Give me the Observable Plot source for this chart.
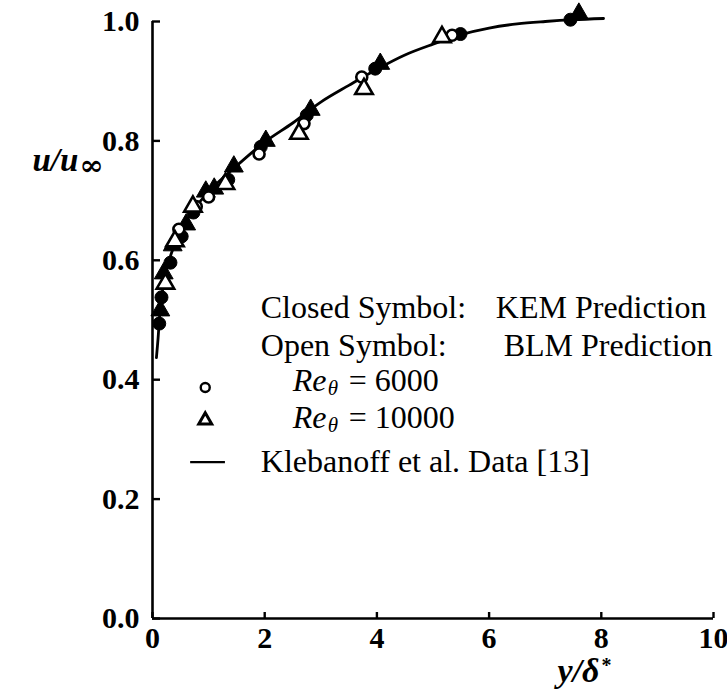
<!DOCTYPE html>
<html><head><meta charset="utf-8">
<script src="https://cdn.jsdelivr.net/npm/d3@7"></script>
<script src="https://cdn.jsdelivr.net/npm/@observablehq/plot@0.6"></script>
<style>body{margin:0;background:#fff}</style>
</head><body><div id="chart"></div>
<script>
// ---- data ----
const xTicks = [0, 2, 4, 6, 8, 10];
const yTicks = [0, 0.2, 0.4, 0.6, 0.8, 1.0];

// Klebanoff et al. data (solid line)
const klebX = [0.07,0.10,0.13,0.18,0.25,0.35,0.5,0.7,1.0,1.4,2.0,2.5,3.0,3.5,4.0,4.5,5.0,5.5,6.0,6.5,7.0,7.5,8.04];
const klebU = [0.437,0.47,0.51,0.55,0.585,0.615,0.648,0.68,0.715,0.75,0.798,0.83,0.865,0.893,0.92,0.944,0.962,0.978,0.989,0.996,1.0,1.003,1.005];

// KEM prediction (closed symbols)
const kem6000X = [0.12,0.16,0.32,0.52,0.73,1.35,1.93,2.75,3.97,5.49,7.45];
const kem6000U = [0.494,0.538,0.596,0.64,0.68,0.735,0.79,0.843,0.921,0.979,1.003];
const kem10000X = [0.14,0.2,0.36,0.6,0.95,1.1,1.45,2.02,2.82,4.06,7.6];
const kem10000U = [0.516,0.578,0.625,0.66,0.715,0.72,0.757,0.80,0.852,0.929,1.013];

// BLM prediction (open symbols)
const blm6000X = [0.47,0.78,1.0,1.9,2.7,3.73,5.34];
const blm6000U = [0.652,0.69,0.706,0.778,0.829,0.907,0.977];
const blm10000X = [0.23,0.4,0.72,1.3,2.61,3.77,5.16];
const blm10000U = [0.561,0.632,0.69,0.728,0.812,0.887,0.974];

// legend text
const legendRow1 = ["Closed Symbol:", "KEM Prediction"];
const legendRow2 = ["Open Symbol:", "BLM Prediction"];
const legendRe = ["6000", "10000"];
const legendLine = "Klebanoff et al. Data [13]";

// ---- build ----
const zip = (xs, us) => xs.map((x, i) => ({x, u: us[i]}));
const kleb = zip(klebX, klebU);
const kem6 = zip(kem6000X, kem6000U);
const kem10 = zip(kem10000X, kem10000U);
const blm6 = zip(blm6000X, blm6000U);
const blm10 = zip(blm10000X, blm10000U);

const serif = "'Liberation Serif', 'DejaVu Serif', serif";
const lx = 1.93;       // legend text column (data units)
const lx2 = 6.12;      // second column
const ly = [0.521, 0.457, 0.399, 0.337, 0.262];
const fs = 32;

const plot = Plot.plot({
  width: 727,
  height: 695,
  marginLeft: 152,
  marginRight: 14,
  marginTop: 21,
  marginBottom: 77,
  style: {fontFamily: serif, fontSize: "28px", color: "#000", background: "#fff"},
  x: {domain: [0, 10]},
  y: {domain: [0, 1]},
  marks: [
    Plot.ruleX([0], {stroke: "#000", strokeWidth: 2.6}),
    Plot.ruleY([0], {stroke: "#000", strokeWidth: 2.6}),
    Plot.axisX({ticks: xTicks, tickSize: -6, tickPadding: 14, strokeWidth: 2.4, tickFormat: d => String(d),
      fontSize: 30, fontWeight: "bold", fontFamily: serif, label: null}),
    Plot.axisY({ticks: yTicks, tickSize: -8, tickPadding: 21, strokeWidth: 2.4, tickFormat: d => d.toFixed(1),
      fontSize: 30, fontWeight: "bold", fontFamily: serif, label: null}),
    // Klebanoff line
    Plot.line(kleb, {x: "x", y: "u", curve: "catmull-rom", stroke: "#000", strokeWidth: 2.8}),
    // closed symbols
    Plot.dot(kem6, {x: "x", y: "u", symbol: "circle", r: 6.5, fill: "#000", stroke: "#000", strokeWidth: 1}),
    Plot.dot(kem10, {x: "x", y: "u", symbol: "triangle", r: 7, fill: "#000", stroke: "#000", strokeWidth: 1}),
    // open symbols
    Plot.dot(blm6, {x: "x", y: "u", symbol: "circle", r: 5.5, fill: "#fff", stroke: "#000", strokeWidth: 2.6}),
    Plot.dot(blm10, {x: "x", y: "u", symbol: "triangle", r: 6.5, fill: "#fff", stroke: "#000", strokeWidth: 2.6}),
    // axis titles
    Plot.text(["u/u"], {frameAnchor: "top-left", dx: -120, dy: 126, textAnchor: "start", fontStyle: "italic", fontWeight: "bold", fontSize: 33, fontFamily: serif}),
    Plot.text(["∞"], {frameAnchor: "top-left", dx: -73, dy: 133, textAnchor: "start", fontWeight: "bold", fontSize: 29, fontFamily: "'DejaVu Serif', serif"}),
    Plot.text(["y/δ"], {frameAnchor: "bottom-left", dx: 405, dy: 63, textAnchor: "start", fontStyle: "italic", fontWeight: "bold", fontSize: 34, fontFamily: serif}),
    Plot.text(["*"], {frameAnchor: "bottom-left", dx: 449, dy: 53, textAnchor: "start", fontWeight: "bold", fontSize: 20, fontFamily: serif}),
    // legend
    Plot.text([legendRow1[0]], {x: lx, y: ly[0], textAnchor: "start", fontSize: fs}),
    Plot.text([legendRow1[1]], {x: lx2, y: ly[0], textAnchor: "start", fontSize: fs}),
    Plot.text([legendRow2[0]], {x: lx, y: ly[1], textAnchor: "start", fontSize: fs}),
    Plot.text([legendRow2[1]], {x: lx2 + 0.14, y: ly[1], textAnchor: "start", fontSize: fs}),
    Plot.text(["Re", "Re"], {x: 2.5, y: [ly[2], ly[3]], textAnchor: "start", fontStyle: "italic", fontSize: fs}),
    Plot.text(["θ", "θ"], {x: 2.5, y: [ly[2], ly[3]], dx: 35, dy: 8, textAnchor: "start", fontStyle: "italic", fontSize: 21}),
    Plot.text(["= " + legendRe[0], "= " + legendRe[1]], {x: 2.5, y: [ly[2], ly[3]], dx: 56, textAnchor: "start", fontSize: fs}),
    Plot.text([legendLine], {x: lx, y: ly[4], textAnchor: "start", fontSize: fs}),
    Plot.dot([{x: 0.94, u: 0.387}], {x: "x", y: "u", symbol: "circle", r: 4.5, fill: "#fff", stroke: "#000", strokeWidth: 2.4}),
    Plot.dot([{x: 0.94, u: 0.332}], {x: "x", y: "u", symbol: "triangle", r: 4.8, fill: "#fff", stroke: "#000", strokeWidth: 3}),
    Plot.ruleY([0.262], {x1: 0.68, x2: 1.3, stroke: "#000", strokeWidth: 2.4})
  ]
});
document.getElementById("chart").append(plot);
</script>
</body></html>
